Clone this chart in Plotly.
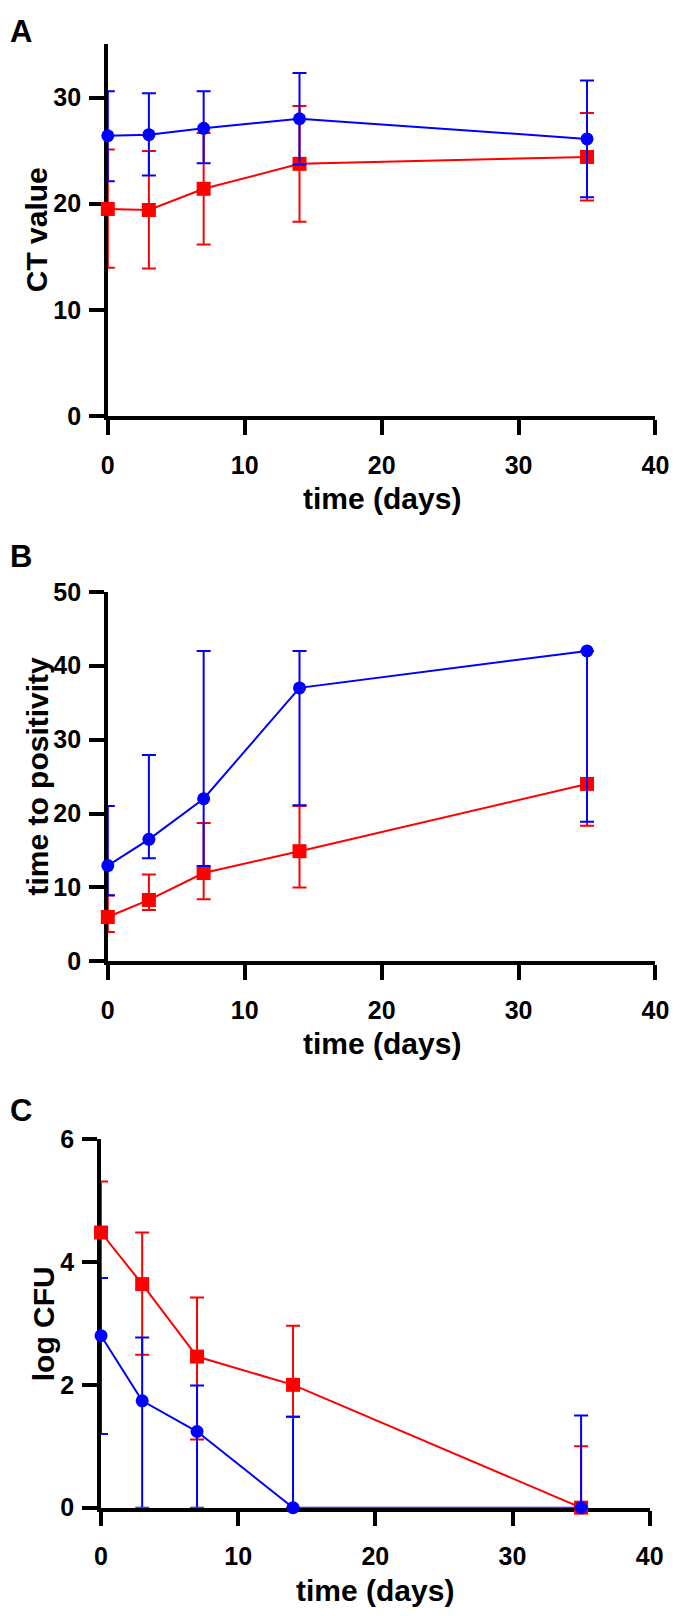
import plotly.graph_objects as go

W, H = 685, 1616

days = [0, 3, 7, 14, 35]

# Panel A: CT value
ct_blue = [26.4, 26.5, 27.1, 28.0, 26.1]
ct_blue_hi = [30.6, 30.4, 30.6, 32.3, 31.6]
ct_blue_lo = [22.1, 22.65, 23.8, 23.7, 20.6]
ct_red = [19.5, 19.4, 21.4, 23.75, 24.4]
ct_red_hi = [25.1, 24.95, 26.65, 29.2, 28.55]
ct_red_lo = [13.95, 13.9, 16.15, 18.3, 20.3]

# Panel B: time to positivity
ttp_blue = [12.95, 16.5, 22.0, 37.0, 42.0]
ttp_blue_hi = [21.0, 27.9, 42.0, 42.0, 42.0]
ttp_blue_lo = [8.95, 13.95, 12.9, 21.1, 18.9]
ttp_red = [6.0, 8.3, 11.95, 14.9, 24.0]
ttp_red_hi = [8.9, 11.75, 18.7, 21.0, 24.0]
ttp_red_lo = [3.95, 6.95, 8.4, 10.0, 18.35]

# Panel C: log CFU
cfu_blue = [2.8, 1.74, 1.24, 0.0, 0.0]
cfu_blue_hi = [3.74, 2.77, 1.99, 1.48, 1.50]
cfu_blue_lo = [1.2, 0.0, 0.0, 0.0, 0.0]
cfu_red = [4.48, 3.64, 2.46, 2.0, 0.0]
cfu_red_hi = [5.31, 4.48, 3.42, 2.96, 1.0]
cfu_red_lo = [3.74, 2.49, 1.11, 1.48, 0.0]

x_ticks = [0, 10, 20, 30, 40]
panels = [
    dict(letter="A", ytitle="CT value", yrange=[0, 35], yticks=[0, 10, 20, 30],
         px=(104, 669), py=(31, 409), letter_y=17.5, ytitle_x=30,
         red=(ct_red, ct_red_hi, ct_red_lo), blue=(ct_blue, ct_blue_hi, ct_blue_lo)),
    dict(letter="B", ytitle="time to positivity", yrange=[0, 50], yticks=[0, 10, 20, 30, 40, 50],
         px=(104, 669), py=(588, 964), letter_y=552, ytitle_x=32,
         red=(ttp_red, ttp_red_hi, ttp_red_lo), blue=(ttp_blue, ttp_blue_hi, ttp_blue_lo)),
    dict(letter="C", ytitle="log CFU", yrange=[0, 6], yticks=[0, 2, 4, 6],
         px=(97, 663), py=(1145, 1520), letter_y=1116, ytitle_x=38,
         red=(cfu_red, cfu_red_hi, cfu_red_lo), blue=(cfu_blue, cfu_blue_hi, cfu_blue_lo)),
]

FONT = "Arial, Liberation Sans, sans-serif"
RED = "#FF0000"
BLUE = "#0000FF"

fig = go.Figure()
annotations = []
layout = {}

for i, p in enumerate(panels):
    n = "" if i == 0 else str(i + 1)
    xa, ya = "x" + n, "y" + n
    for (vals, hi, lo), color, sym, msize in [(p["red"], RED, "square", 14),
                                              (p["blue"], BLUE, "circle", 13)]:
        plus = [h - v for h, v in zip(hi, vals)]
        minus = [v - l for v, l in zip(vals, lo)]
        fig.add_trace(go.Scatter(
            x=days, y=vals, xaxis=xa, yaxis=ya, mode="lines+markers",
            line=dict(color=color, width=2),
            marker=dict(symbol=sym, size=msize, color=color),
            error_y=dict(type="data", symmetric=False, array=plus, arrayminus=minus,
                         color=color, thickness=2, width=7),
            cliponaxis=False, showlegend=False))
    x0, x1 = p["px"]
    y0, y1 = p["py"]
    common = dict(showline=True, linecolor="black", linewidth=3.5, ticks="outside",
                  ticklen=15, tickwidth=3.5, tickcolor="black", showgrid=False,
                  zeroline=False, layer="below traces",
                  tickfont=dict(family=FONT, size=25, color="black", weight="bold"))
    layout["xaxis" + n] = dict(common, domain=[x0 / W, x1 / W], range=[0, 40],
                               tickvals=x_ticks, anchor=ya, ticklabelstandoff=9)
    layout["yaxis" + n] = dict(common, domain=[1 - y1 / H, 1 - y0 / H], range=p["yrange"],
                               tickvals=p["yticks"], anchor=xa, ticklabelstandoff=3)
    annotations.append(dict(text=p["letter"], x=1 / W, y=1 - p["letter_y"] / H, xref="paper",
                            yref="paper", xanchor="left", yanchor="middle", showarrow=False,
                            font=dict(family=FONT, size=31, color="black", weight="bold")))
    annotations.append(dict(text=p["ytitle"], x=p["ytitle_x"] / W, y=1 - (y0 + y1) / 2 / H,
                            xref="paper", yref="paper", xanchor="center", yanchor="middle",
                            textangle=-90, showarrow=False,
                            font=dict(family=FONT, size=30, color="black", weight="bold")))
    annotations.append(dict(text="time (days)", x=(x0 + x1) / 2 / W, y=1 - (y1 + 84) / H,
                            xref="paper", yref="paper", xanchor="center", yanchor="middle",
                            showarrow=False,
                            font=dict(family=FONT, size=30, color="black", weight="bold")))

fig.update_layout(width=W, height=H, autosize=False, margin=dict(l=0, r=0, t=0, b=0),
                  paper_bgcolor="white", plot_bgcolor="white", annotations=annotations,
                  **layout)
fig.write_html("out.html", config={"displayModeBar": False},
               post_script="document.body.style.margin='0';document.body.style.overflow='hidden';")
